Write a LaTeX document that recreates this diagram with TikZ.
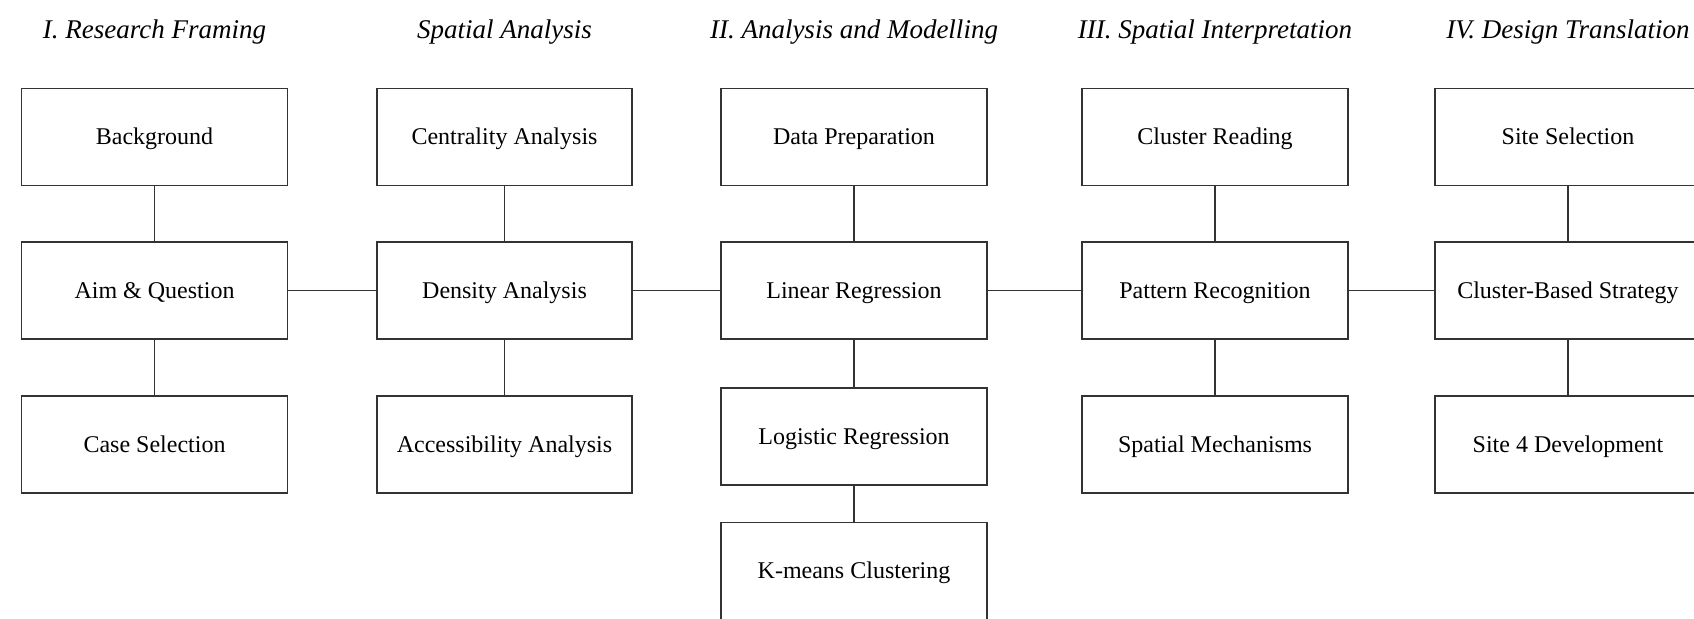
\documentclass[tikz,border=0pt]{standalone}
\usepackage{fontspec}
\setmainfont{Liberation Serif}
\begin{document}
\begin{tikzpicture}[x=.5pt, y=-.5pt,
    box/.style={draw=black!80, line width=.8pt, minimum width=133pt, minimum height=48.5pt,
        inner sep=0pt, text height=.95em, text depth=.2em, font=\fontsize{12}{14}\selectfont},
    phase/.style={font=\fontsize{13.5}{16}\selectfont\itshape},
    link/.style={draw=black!80, line width=.8pt}]
  \useasboundingbox (0,0) rectangle (1694,618);
  \clip (0,0) rectangle (1694,618);
  \fill[white] (0,0) rectangle (1694,618);

  % phase titles
  \node[phase] (ph1) at (154.5,32) {I. Research Framing};
  \node[phase] (ph2) at (504.5,32) {Spatial Analysis};
  \node[phase] (ph3) at (854,32) {II. Analysis and Modelling};
  \node[phase] (ph4) at (1215,32) {III. Spatial Interpretation};
  \node[phase] (ph5) at (1568,32) {IV. Design Translation};

  % I. Research Framing
  \node[box] (bg) at (154.5,137) {Background};
  \node[box] (aim) at (154.5,290.5) {Aim \& Question};
  \node[box] (case) at (154.5,444.5) {Case Selection};

  % spatial analysis
  \node[box, minimum width=127.5pt] (cent) at (504.5,137) {Centrality Analysis};
  \node[box, minimum width=127.5pt] (dens) at (504.5,290.5) {Density Analysis};
  \node[box, minimum width=127.5pt] (acc) at (504.5,444.5) {Accessibility Analysis};

  % II. Analysis and Modelling
  \node[box] (prep) at (854,137) {Data Preparation};
  \node[box] (lin) at (854,290.5) {Linear Regression};
  \node[box] (logit) at (854,436.5) {Logistic Regression};
  \node[box] (kmeans) at (854,571) {K-means Clustering};

  % III. Spatial Interpretation
  \node[box] (read) at (1215,137) {Cluster Reading};
  \node[box] (pat) at (1215,290.5) {Pattern Recognition};
  \node[box] (mech) at (1215,444.5) {Spatial Mechanisms};

  % IV. Design Translation
  \node[box] (site) at (1568,137) {Site Selection};
  \node[box] (strat) at (1568,290.5) {Cluster-Based Strategy};
  \node[box] (dev) at (1568,444.5) {Site 4 Development};

  % links
  \draw[link] (bg) -- (aim) -- (case);
  \draw[link] (cent) -- (dens) -- (acc);
  \draw[link] (prep) -- (lin) -- (logit) -- (kmeans);
  \draw[link] (read) -- (pat) -- (mech);
  \draw[link] (site) -- (strat) -- (dev);
  \draw[link] (aim) -- (dens) -- (lin) -- (pat) -- (strat);
\end{tikzpicture}
\end{document}
